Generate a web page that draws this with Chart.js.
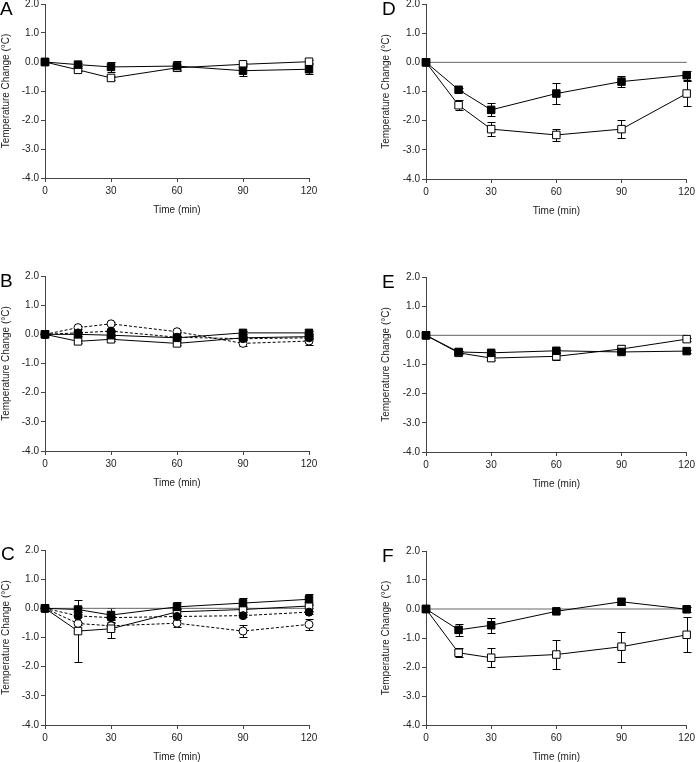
<!DOCTYPE html>
<html><head><meta charset="utf-8">
<script src="https://cdn.jsdelivr.net/npm/chart.js@4"></script>
<style>
html,body{margin:0;padding:0;background:#fff;overflow:hidden;width:698px;height:762px;position:relative}
canvas{position:absolute}
.lbl{position:absolute;font-family:"Liberation Sans",Arial,sans-serif;font-size:19px;line-height:19px;color:#000}
</style></head><body>
<canvas id="cA"></canvas><canvas id="cB"></canvas><canvas id="cC"></canvas>
<canvas id="cD"></canvas><canvas id="cE"></canvas><canvas id="cF"></canvas>
<div class="lbl" style="left:0px;top:-1px">A</div>
<div class="lbl" style="left:0px;top:271px">B</div>
<div class="lbl" style="left:1px;top:544px">C</div>
<div class="lbl" style="left:382px;top:-1px">D</div>
<div class="lbl" style="left:382px;top:272px">E</div>
<div class="lbl" style="left:382px;top:546px">F</div>
<script>
// ---- data ----
const times = [0, 15, 30, 60, 90, 120];
const xTicks = [0, 30, 60, 90, 120];
const yTicks = [-4, -3, -2, -1, 0, 1, 2];
const zeroLineX = [0, 120];
const zeroLineY = [0, 0];

const aFilled = [0, -0.09, -0.17, -0.14, -0.30, -0.25];
const aFilledErr = [0, 0.04, 0.17, 0.17, 0.18, 0.18];
const aOpen = [0, -0.27, -0.55, -0.20, -0.08, 0.01];
const aOpenErr = [0, 0.05, 0.08, 0.06, 0.06, 0.05];

const bFilledSq = [0, 0.00, -0.03, -0.12, 0.05, 0.05];
const bFilledSqErr = [0, 0.04, 0.04, 0.05, 0.05, 0.05];
const bOpenSq = [0, -0.24, -0.17, -0.31, -0.12, -0.08];
const bOpenSqErr = [0, 0.05, 0.05, 0.05, 0.05, 0.05];
const bFilledCirc = [0, 0.05, 0.11, -0.10, -0.15, -0.12];
const bFilledCircErr = [0, 0.04, 0.04, 0.04, 0.05, 0.05];
const bOpenCirc = [0, 0.23, 0.36, 0.09, -0.31, -0.23];
const bOpenCircErr = [0, 0.05, 0.05, 0.05, 0.10, 0.12];

const cFilledSq = [0, -0.04, -0.23, 0.05, 0.18, 0.31];
const cFilledSqErr = [0, 0.08, 0.23, 0.15, 0.19, 0.19];
const cOpenSq = [0, -0.78, -0.70, -0.12, -0.04, 0.08];
const cOpenSqErr = [0, 1.07, 0.30, 0.10, 0.08, 0.08];
const cFilledCirc = [0, -0.26, -0.32, -0.28, -0.25, -0.13];
const cFilledCircErr = [0, 0.05, 0.05, 0.05, 0.05, 0.05];
const cOpenCirc = [0, -0.52, -0.60, -0.51, -0.78, -0.55];
const cOpenCircErr = [0, 0.06, 0.10, 0.12, 0.20, 0.18];

const dFilled = [0, -0.94, -1.63, -1.07, -0.66, -0.44];
const dFilledErr = [0, 0.05, 0.22, 0.36, 0.18, 0.15];
const dOpen = [0, -1.47, -2.29, -2.49, -2.29, -1.07];
const dOpenErr = [0, 0.17, 0.23, 0.21, 0.31, 0.43];

const eFilled = [0, -0.57, -0.60, -0.53, -0.57, -0.54];
const eFilledErr = [0, 0.05, 0.05, 0.05, 0.06, 0.05];
const eOpen = [0, -0.60, -0.78, -0.72, -0.47, -0.13];
const eOpenErr = [0, 0.05, 0.06, 0.12, 0.14, 0.05];

const fFilled = [0, -0.72, -0.56, -0.08, 0.25, -0.01];
const fFilledErr = [0, 0.20, 0.26, 0.07, 0.10, 0.08];
const fOpen = [0, -1.51, -1.68, -1.57, -1.30, -0.89];
const fOpenErr = [0, 0.15, 0.32, 0.50, 0.52, 0.60];

// ---- rendering ----
const FONT = '"Liberation Sans", Arial, sans-serif';

const errorBarPlugin = {
  id: 'errbars',
  beforeDatasetsDraw(chart) {
    const {ctx} = chart; const xs = chart.scales.x, ys = chart.scales.y;
    ctx.save(); ctx.strokeStyle = '#000'; ctx.lineWidth = 1;
    chart.data.datasets.forEach(ds => {
      if (!ds.errors) return;
      ds.data.forEach((p, i) => {
        const e = ds.errors[i]; if (!e) return;
        const px = Math.round(xs.getPixelForValue(p.x)) + 0.5;
        const y1 = Math.round(ys.getPixelForValue(p.y + e)) + 0.5;
        const y2 = Math.round(ys.getPixelForValue(p.y - e)) + 0.5;
        ctx.beginPath();
        ctx.moveTo(px, y1); ctx.lineTo(px, y2);
        ctx.moveTo(px - 4, y1); ctx.lineTo(px + 4, y1);
        ctx.moveTo(px - 4, y2); ctx.lineTo(px + 4, y2);
        ctx.stroke();
      });
    });
    ctx.restore();
  }
};

function series(vals, errs, kind) {
  const filled = kind.startsWith('filled');
  const circle = kind.endsWith('circ');
  return {
    data: times.map((t, i) => ({x: t, y: vals[i]})),
    errors: errs,
    borderColor: '#000', borderWidth: 1,
    borderDash: circle ? [3, 2] : [],
    pointStyle: circle ? 'circle' : 'rect',
    pointRadius: circle ? 4 : 5.3,
    pointBorderWidth: 1,
    pointBorderColor: '#000',
    pointBackgroundColor: filled ? '#000' : '#fff',
    pointHoverRadius: circle ? 4 : 5.3,
    fill: false, tension: 0, clip: false
  };
}
function zeroSeries() {
  return {
    data: zeroLineX.map((t, i) => ({x: t, y: zeroLineY[i]})),
    borderColor: '#666', borderWidth: 1, pointRadius: 0, fill: false, clip: false
  };
}

function panel(id, col, plotTop, plotBottom, datasets) {
  const cv = document.getElementById(id);
  const mt = 20, mb = 47;
  const left = col === 0 ? 0 : 380;
  const W = col === 0 ? 349 : 318;
  const ml = col === 0 ? 45 : 46;
  const mr = col === 0 ? 40 : 9;
  const H = mt + (plotBottom - plotTop) + mb;
  cv.width = W; cv.height = H;
  cv.style.left = left + 'px'; cv.style.top = (plotTop - mt) + 'px';
  cv.style.width = W + 'px'; cv.style.height = H + 'px';
  new Chart(cv, {
    type: 'line',
    data: {datasets},
    plugins: [errorBarPlugin],
    options: {
      responsive: false, animation: false, devicePixelRatio: 1,
      layout: {padding: {top: mt, right: mr, left: 0, bottom: 0}},
      plugins: {legend: {display: false}, tooltip: {enabled: false}},
      events: [],
      scales: {
        x: {
          type: 'linear', min: 0, max: 120,
          afterBuildTicks: s => { s.ticks = xTicks.map(v => ({value: v})); },
          afterFit: s => { s.height = mb; },
          ticks: {font: {family: FONT, size: 10}, color: '#222', padding: 3, maxRotation: 0,
                  callback: v => String(v)},
          grid: {display: true, drawOnChartArea: false, drawTicks: true, tickLength: 4, color: '#444'},
          border: {display: true, color: '#444', width: 1},
          title: {display: true, text: 'Time (min)', font: {family: FONT, size: 10}, color: '#222',
                  padding: {top: 0, bottom: 9}}
        },
        y: {
          type: 'linear', min: -4, max: 2,
          afterBuildTicks: s => { s.ticks = yTicks.map(v => ({value: v})); },
          afterFit: s => { s.width = ml; },
          ticks: {font: {family: FONT, size: 10}, color: '#222', padding: 2,
                  callback: v => Number(v).toFixed(1)},
          grid: {display: true, drawOnChartArea: false, drawTicks: true, tickLength: 4, color: '#444'},
          border: {display: true, color: '#444', width: 1},
          title: {display: true, text: 'Temperature Change (°C)', font: {family: FONT, size: 10}, color: '#222',
                  padding: {top: 0, bottom: 0}}
        }
      }
    }
  });
}

panel('cA', 0, 4, 178, [
  series(aFilled, aFilledErr, 'filledsq'),
  series(aOpen, aOpenErr, 'opensq')
]);
panel('cB', 0, 276, 451, [
  series(bFilledSq, bFilledSqErr, 'filledsq'),
  series(bFilledCirc, bFilledCircErr, 'filledcirc'),
  series(bOpenCirc, bOpenCircErr, 'opencirc'),
  series(bOpenSq, bOpenSqErr, 'opensq')
]);
panel('cC', 0, 550, 725, [
  series(cFilledSq, cFilledSqErr, 'filledsq'),
  series(cFilledCirc, cFilledCircErr, 'filledcirc'),
  series(cOpenSq, cOpenSqErr, 'opensq'),
  series(cOpenCirc, cOpenCircErr, 'opencirc'),
  zeroSeries()
]);
panel('cD', 1, 4, 179, [
  series(dFilled, dFilledErr, 'filledsq'),
  series(dOpen, dOpenErr, 'opensq'),
  zeroSeries()
]);
panel('cE', 1, 277, 452, [
  series(eFilled, eFilledErr, 'filledsq'),
  series(eOpen, eOpenErr, 'opensq'),
  zeroSeries()
]);
panel('cF', 1, 551, 725, [
  series(fFilled, fFilledErr, 'filledsq'),
  series(fOpen, fOpenErr, 'opensq'),
  zeroSeries()
]);
</script>
</body></html>
